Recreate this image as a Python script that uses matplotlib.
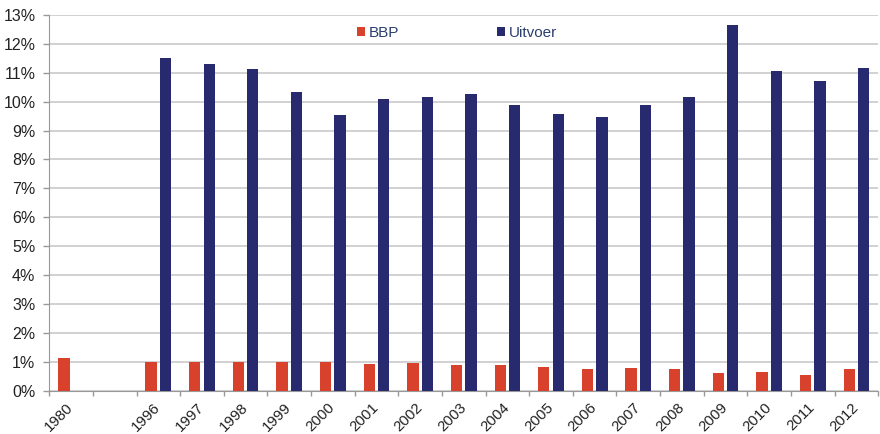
import numpy as np
import matplotlib
matplotlib.use("Agg")
import matplotlib.pyplot as plt
from matplotlib.ticker import FuncFormatter, FixedLocator

# data (percent)
years = ["1980", "", "1996", "1997", "1998", "1999", "2000", "2001", "2002", "2003",
         "2004", "2005", "2006", "2007", "2008", "2009", "2010", "2011", "2012"]
bbp = [1.13, np.nan, 0.99, 0.98, 0.99, 0.99, 0.99, 0.92, 0.95, 0.87,
       0.89, 0.82, 0.76, 0.78, 0.74, 0.61, 0.66, 0.53, 0.74]
uitvoer = [np.nan, np.nan, 11.51, 11.29, 11.12, 10.32, 9.54, 10.10, 10.17, 10.28,
           9.89, 9.57, 9.46, 9.87, 10.17, 12.65, 11.07, 10.70, 11.18]

RED = "#d8412b"
NAVY = "#282a70"
GRID = "#c9c9c9"
AXIS = "#999999"

plt.rcParams["font.family"] = ["Liberation Sans", "DejaVu Sans"]

fig = plt.figure(figsize=(8.8, 4.34), dpi=100)
ax = fig.add_axes([0.056, 0.1, 0.942, 0.8655])

x = np.arange(len(years))
w = 0.26
ax.bar(x - 0.165, bbp, width=w, color=RED, label="BBP", zorder=3)
ax.bar(x + 0.165, uitvoer, width=w, color=NAVY, label="Uitvoer", zorder=3)

ax.set_xlim(-0.5, len(years) - 0.5)
ax.set_ylim(0, 13)
ax.set_yticks(np.arange(0, 14, 1))
ax.yaxis.set_major_formatter(FuncFormatter(lambda v, p: f"{v:.0f}%"))
ax.yaxis.grid(True, color=GRID, linewidth=1.2, zorder=0)
ax.tick_params(axis="y", length=4, width=1, color=AXIS, labelsize=11.5, pad=6,
               labelcolor="#222222")

# labels in the middle of each slot, tick marks on the slot borders
ax.set_xticks(x)
ax.set_xticklabels(years, rotation=45, ha="right", va="center",
                   rotation_mode="anchor", fontsize=10.8, color="#222222")
ax.tick_params(axis="x", which="major", length=0, pad=10.5)
ax.xaxis.set_minor_locator(FixedLocator(np.arange(-0.5, len(years), 1)))
ax.tick_params(axis="x", which="minor", length=3.5, color=AXIS, width=1)

for s in ["top", "right"]:
    ax.spines[s].set_visible(False)
ax.spines["left"].set_color(AXIS)
ax.spines["bottom"].set_color(AXIS)

leg = ax.legend(loc="upper left", bbox_to_anchor=(0.3615, 0.992), ncol=2,
                frameon=False, fontsize=11, handlelength=0.55, handleheight=0.55,
                handletextpad=0.25, columnspacing=6.4, borderpad=0)
for t in leg.get_texts():
    t.set_color("#2b3f6e")

fig.savefig("out.png", dpi=100)
